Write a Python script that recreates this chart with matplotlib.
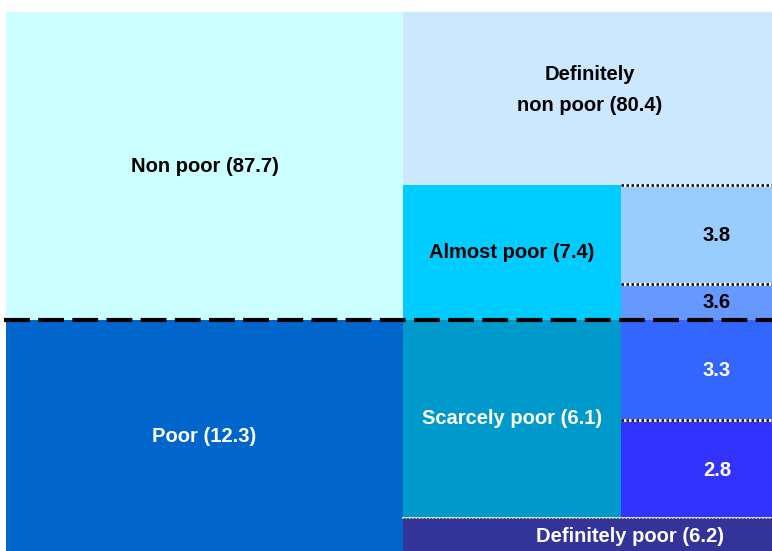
# poverty breakdown schematic - nested boxes
import matplotlib.pyplot as plt
from matplotlib.patches import Rectangle

# data
groups = ['Non poor', 'Poor']
group_vals = [87.7, 12.3]
classes = ['Definitely\nnon poor', 'Almost poor', 'Scarcely poor', 'Definitely poor']
class_vals = [80.4, 7.4, 6.1, 6.2]
sub_vals = [3.8, 3.6, 3.3, 2.8]

# layout (pixel-like coordinates, not proportional in the original)
x0, x1, x2, x3 = 6, 403, 621, 772
ytop, ysplit, ybot = 12, 320, 560
class_edges = [12, 185, 320, 518, 560]
sub_edges = [185, 284, 320, 420, 518]

group_cols = ['#CCFFFF', '#0066CC']
class_cols = ['#CCE8FF', '#00CCFF', '#0099CC', '#333399']
sub_cols = ['#99CCFF', '#6699FF', '#3366FF', '#3333FF']
group_txt = ['black', 'white']
class_txt = ['black', 'black', 'white', 'white']
sub_txt = ['black', 'black', 'white', 'white']

plt.rcParams['font.family'] = ['Liberation Sans', 'DejaVu Sans']
fig = plt.figure(figsize=(7.72, 5.51), dpi=100)
ax = fig.add_axes([0, 0, 1, 1])
ax.set_xlim(0, 772)
ax.set_ylim(551, 0)
ax.axis('off')

fs = 14.5

# left column
gy = [ytop, ysplit, ybot]
for i in range(2):
    ax.add_patch(Rectangle((x0, gy[i]), x1 - x0, gy[i+1] - gy[i], color=group_cols[i], lw=0))
    ax.text((x0 + x1) / 2, (gy[i] + min(gy[i+1], 551)) / 2 + 1,
            '%s (%.1f)' % (groups[i], group_vals[i]),
            ha='center', va='center', fontsize=fs, fontweight='bold', color=group_txt[i])

# middle column (classes)
for i in range(4):
    right = x3 if i in (0, 3) else x2
    y_a, y_b = class_edges[i], class_edges[i+1]
    ax.add_patch(Rectangle((x1, y_a), right - x1, y_b - y_a, color=class_cols[i], lw=0))
    if i == 3:
        tx, ty = 630, 537
    elif i == 0:
        tx, ty = 590, 90
    else:
        tx, ty = (x1 + right) / 2, (y_a + y_b) / 2
    ax.text(tx, ty, '%s (%.1f)' % (classes[i], class_vals[i]),
            ha='center', va='center', fontsize=fs, fontweight='bold',
            color=class_txt[i], linespacing=1.75)

# right sub-column
for i in range(4):
    y_a, y_b = sub_edges[i], sub_edges[i+1]
    ax.add_patch(Rectangle((x2, y_a), x3 - x2, y_b - y_a, color=sub_cols[i], lw=0))
    ax.text(717, (y_a + y_b) / 2 + 1, '%.1f' % sub_vals[i],
            ha='center', va='center', fontsize=fs, fontweight='bold', color=sub_txt[i])

# dotted separators
for y in [185, 284, 420]:
    ax.plot([x2, x3], [y, y], color='white', lw=2, solid_capstyle='butt')
    ax.plot([x2, x3], [y, y], color='black', lw=1.8, ls=(0, (1, 1)))
ax.plot([x1, x3], [518, 518], color='white', lw=1.2)
ax.plot([x1, x3], [518, 518], color='#555555', lw=0.8, ls=(0, (2, 1)))

# poverty line
ax.plot([4, x3], [ysplit, ysplit], color='black', lw=3, ls=(0, (6.2, 2)))

fig.savefig('out.png', dpi=100)
print('** END')
